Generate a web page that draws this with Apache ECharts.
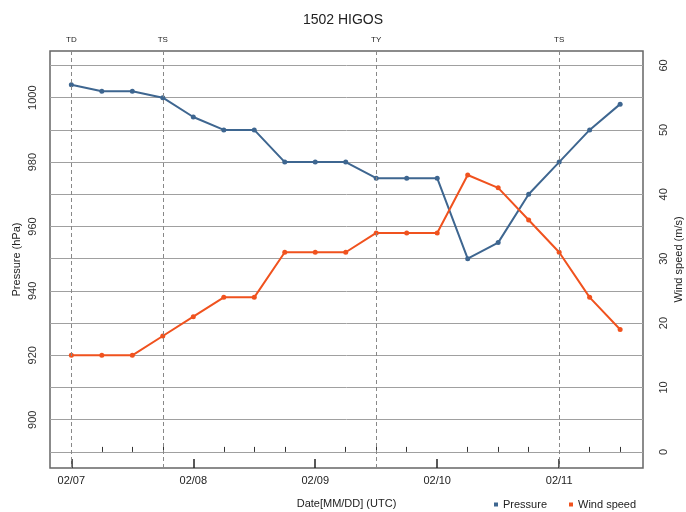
<!DOCTYPE html>
<html>
<head>
<meta charset="utf-8">
<script src="https://cdn.jsdelivr.net/npm/echarts@6/dist/echarts.min.js"></script>
<style>
  html, body { margin: 0; padding: 0; background: #fff; }
  #main { width: 686px; height: 512px; }
</style>
</head>
<body>
<div id="main"></div>
<script>
// 6-hourly steps from 02/07 00UTC
const pressure = [1004, 1002, 1002, 1000, 994, 990, 990, 980, 980, 980, 975, 975, 975, 950, 955, 970, 980, 990, 998];
const wind = [15, 15, 15, 18, 21, 24, 24, 31, 31, 31, 34, 34, 34, 43, 41, 36, 31, 24, 19];

const dayIdx = [0, 4, 8, 12, 16];
const dayLabels = ['02/07', '02/08', '02/09', '02/10', '02/11'];
const minorIdx = [1, 2, 3, 5, 6, 7, 9, 10, 11, 13, 14, 15, 17, 18];

const stageIdx = [0, 3, 10, 16];
const stageLabels = ['TD', 'TS', 'TY', 'TS'];

const chart = echarts.init(document.getElementById('main'));

const font = 'Liberation Sans';

const baseX = {
  type: 'value',
  min: -0.7,
  max: 18.75,
  axisLine: { show: false },
  splitLine: { show: false }
};

const option = {
  textStyle: { fontFamily: font },
  title: {
    text: '1502 HIGOS',
    left: 'center',
    top: 8,
    textStyle: { fontSize: 14, fontWeight: 'normal', color: '#222', fontFamily: font }
  },
  legend: {
    left: 489,
    top: 494,
    icon: 'rect',
    itemWidth: 4,
    itemHeight: 4,
    itemGap: 22,
    textStyle: { fontSize: 11, color: '#222', fontFamily: font },
    data: ['Pressure', 'Wind speed']
  },
  grid: {
    left: 50, right: 43, top: 51, bottom: 44,
    outerBoundsMode: 'none',
    containLabel: false,
    show: true,
    borderColor: '#666',
    borderWidth: 1.5
  },
  xAxis: [
    Object.assign({}, baseX, {
      axisTick: { inside: true, length: 5, customValues: minorIdx, lineStyle: { color: '#333', width: 1 } },
      axisLabel: { show: false }
    }),
    Object.assign({}, baseX, {
      position: 'bottom',
      name: 'Date[MM/DD] (UTC)',
      nameLocation: 'middle',
      nameGap: 30,
      nameMoveOverlap: false,
      nameTextStyle: { fontSize: 11, color: '#222' },
      axisTick: { inside: true, length: 9, customValues: dayIdx, lineStyle: { color: '#222', width: 1.5 } },
      axisLabel: {
        customValues: dayIdx,
        fontSize: 11,
        color: '#222',
        margin: 7,
        formatter: v => dayLabels[dayIdx.indexOf(Math.round(v))] || ''
      }
    })
  ],
  yAxis: [
    {
      type: 'value',
      min: 885,
      max: 1014.5,
      interval: 5,
      name: 'Pressure (hPa)',
      nameLocation: 'middle',
      nameRotate: 90,
      nameGap: 28,
      nameMoveOverlap: false,
      nameTextStyle: { fontSize: 11, color: '#222' },
      axisLine: { show: false },
      axisTick: { show: false },
      axisLabel: {
        rotate: 90,
        fontSize: 11,
        color: '#333',
        margin: 12,
        formatter: v => (v % 20 === 0 && v >= 900 && v <= 1000) ? String(v) : ''
      },
      splitLine: { show: true, lineStyle: { color: ['rgba(0,0,0,0)', '#a0a0a0'], width: 1 } }
    },
    {
      type: 'value',
      position: 'right',
      min: -2.5,
      max: 62.25,
      interval: 2.5,
      name: 'Wind speed (m/s)',
      nameLocation: 'middle',
      nameRotate: 90,
      nameGap: 30,
      nameMoveOverlap: false,
      nameTextStyle: { fontSize: 11, color: '#222' },
      axisLine: { show: false },
      axisTick: { show: false },
      axisLabel: {
        rotate: 90,
        fontSize: 11,
        color: '#333',
        margin: 15,
        formatter: v => (Math.abs(v % 10) < 1e-6 && v >= 0 && v <= 60) ? String(Math.round(v)) : ''
      },
      splitLine: { show: false }
    }
  ],
  series: [
    {
      name: 'Pressure',
      type: 'line',
      xAxisIndex: 0,
      yAxisIndex: 0,
      data: pressure.map((p, i) => [i, p]),
      symbol: 'circle',
      symbolSize: 5,
      lineStyle: { color: '#3e6690', width: 2 },
      itemStyle: { color: '#3e6690' },
      z: 3,
      markLine: {
        silent: true,
        symbol: 'none',
        lineStyle: { type: [4, 3], color: '#888', width: 1 },
        label: { position: 'end', distance: 7, fontSize: 8, color: '#222', fontFamily: font },
        data: stageIdx.map((x, i) => ({ xAxis: x, label: { formatter: stageLabels[i] } }))
      }
    },
    {
      name: 'Wind speed',
      type: 'line',
      xAxisIndex: 0,
      yAxisIndex: 1,
      data: wind.map((w, i) => [i, w]),
      symbol: 'circle',
      symbolSize: 5,
      lineStyle: { color: '#f0521e', width: 2 },
      itemStyle: { color: '#f0521e' },
      z: 3
    }
  ]
};

chart.setOption(option);
</script>
</body>
</html>
